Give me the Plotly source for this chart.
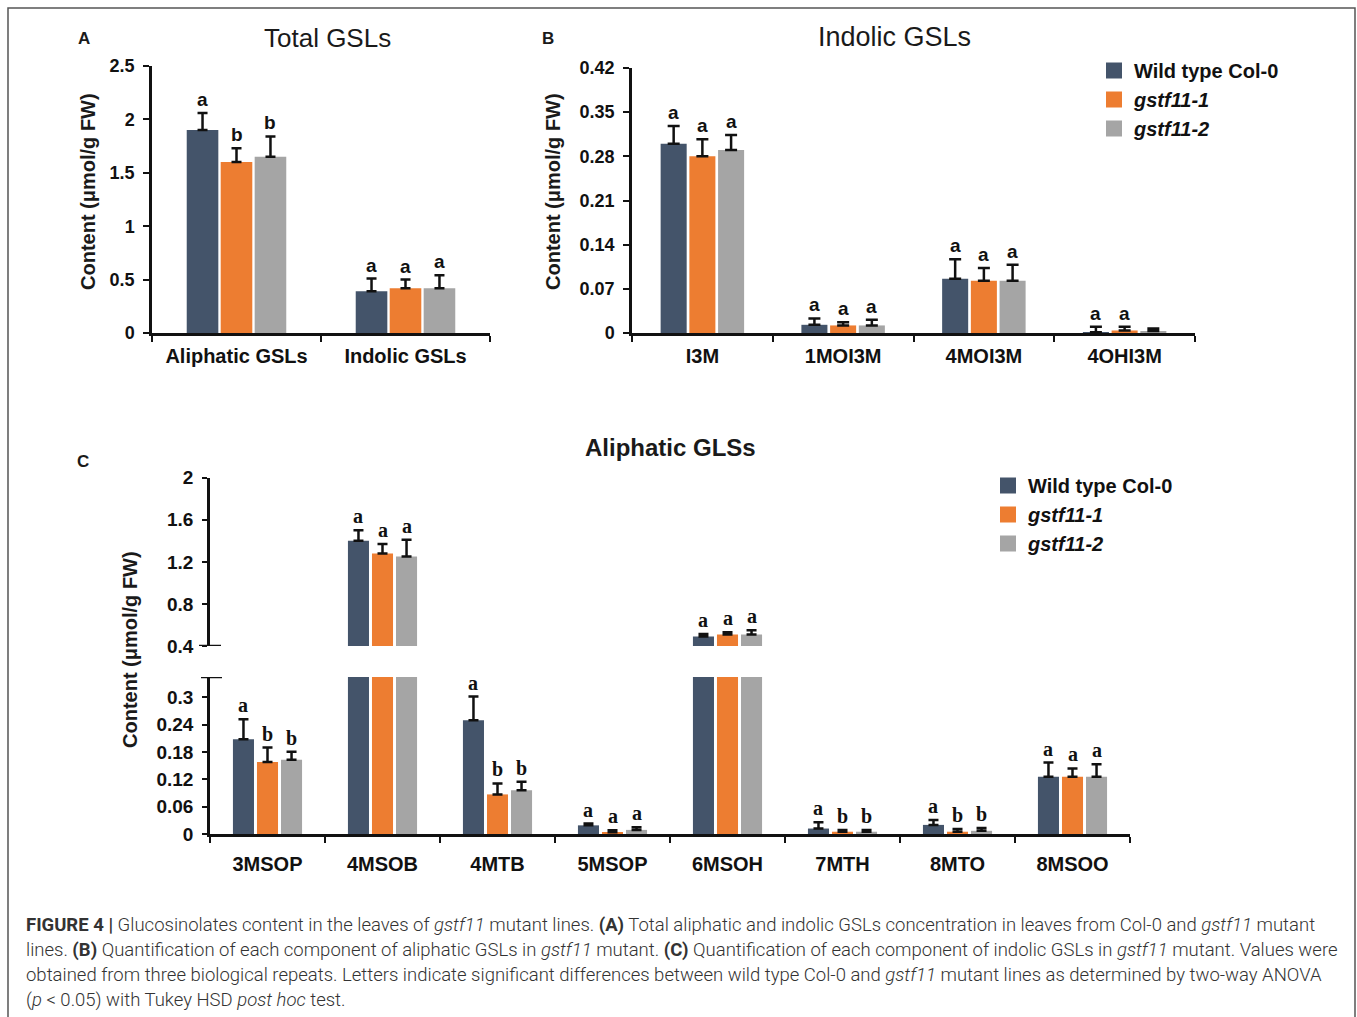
import plotly.graph_objects as go

W, H = 1357, 1017

# ---------------- data ----------------
series = ["Wild type Col-0", "gstf11-1", "gstf11-2"]
legend_names = ["<b>Wild type Col-0</b>", "<b><i>gstf11-1</i></b>", "<b><i>gstf11-2</i></b>"]
colors = ["#44546A", "#ED7D31", "#A5A5A5"]

# Panel A: Total GSLs
a_cats = ["Aliphatic GSLs", "Indolic GSLs"]
a_wt = [1.90, 0.39]
a_wt_err = [0.16, 0.12]
a_g1 = [1.60, 0.42]
a_g1_err = [0.13, 0.08]
a_g2 = [1.65, 0.42]
a_g2_err = [0.19, 0.12]
a_wt_let = ["a", "a"]
a_g1_let = ["b", "a"]
a_g2_let = ["b", "a"]
a_ticks = [0, 0.5, 1, 1.5, 2, 2.5]
a_ticktext = ["0", "0.5", "1", "1.5", "2", "2.5"]

# Panel B: Indolic GSLs
b_cats = ["I3M", "1MOI3M", "4MOI3M", "4OHI3M"]
b_wt = [0.300, 0.013, 0.086, 0.001]
b_wt_err = [0.028, 0.010, 0.031, 0.009]
b_g1 = [0.280, 0.012, 0.083, 0.004]
b_g1_err = [0.027, 0.005, 0.020, 0.006]
b_g2 = [0.290, 0.012, 0.083, 0.003]
b_g2_err = [0.024, 0.009, 0.025, 0.004]
b_wt_let = ["a", "a", "a", "a"]
b_g1_let = ["a", "a", "a", "a"]
b_g2_let = ["a", "a", "a", ""]
b_ticks = [0, 0.07, 0.14, 0.21, 0.28, 0.35, 0.42]
b_ticktext = ["0", "0.07", "0.14", "0.21", "0.28", "0.35", "0.42"]

# Panel C: Aliphatic GSLs (broken axis)
c_cats = ["3MSOP", "4MSOB", "4MTB", "5MSOP", "6MSOH", "7MTH", "8MTO", "8MSOO"]
c_wt = [0.208, 1.40, 0.250, 0.019, 0.49, 0.012, 0.020, 0.126]
c_wt_err = [0.044, 0.10, 0.052, 0.004, 0.025, 0.014, 0.011, 0.031]
c_g1 = [0.158, 1.28, 0.087, 0.004, 0.51, 0.005, 0.005, 0.126]
c_g1_err = [0.032, 0.09, 0.024, 0.004, 0.020, 0.004, 0.006, 0.018]
c_g2 = [0.163, 1.25, 0.096, 0.009, 0.51, 0.005, 0.007, 0.126]
c_g2_err = [0.018, 0.16, 0.019, 0.006, 0.040, 0.004, 0.006, 0.027]
c_wt_let = ["a", "a", "a", "a", "a", "a", "a", "a"]
c_g1_let = ["b", "a", "b", "a", "a", "b", "b", "a"]
c_g2_let = ["b", "a", "b", "a", "a", "b", "b", "a"]
c_low_ticks = [0, 0.06, 0.12, 0.18, 0.24, 0.3]
c_low_ticktext = ["0", "0.06", "0.12", "0.18", "0.24", "0.3"]
c_up_ticks = [0.4, 0.8, 1.2, 1.6, 2.0]
c_up_ticktext = ["0.4", "0.8", "1.2", "1.6", "2"]
c_low_max = 0.345
c_up_range = [0.4, 2.0]

caption_lines = [
    "<b>FIGURE 4 |</b> Glucosinolates content in the leaves of <i>gstf11</i> mutant lines. <b>(A)</b> Total aliphatic and indolic GSLs concentration in leaves from Col-0 and <i>gstf11</i> mutant",
    "lines. <b>(B)</b> Quantification of each component of aliphatic GSLs in <i>gstf11</i> mutant. <b>(C)</b> Quantification of each component of indolic GSLs in <i>gstf11</i> mutant. Values were",
    "obtained from three biological repeats. Letters indicate significant differences between wild type Col-0 and <i>gstf11</i> mutant lines as determined by two-way ANOVA",
    "(<i>p</i> &lt; 0.05) with Tukey HSD <i>post hoc</i> test.",
]

# ---------------- helpers ----------------
def px_x(p):
    return p / W

def px_y(p):
    return 1 - p / H

SANS = "Liberation Sans, Arial, sans-serif"
NARROW = "Liberation Sans Narrow, Arial Narrow, Liberation Sans, sans-serif"
SERIF = "Liberation Serif, Times New Roman, serif"

fig = go.Figure()
annotations = []
shapes = []


def add_panel(cats, vals, errs, lets, xa, ya, bw, step, capw, thick, letfont, letsize, ya_up=None, split=None):
    for k in range(3):
        shift = (k - 1) * step
        axes = [(xa, ya)] if ya_up is None else [(xa, ya), (ya_up[0], ya_up[1])]
        for (xx, yy) in axes:
            fig.add_trace(go.Bar(
                x=cats, y=vals[k], width=bw, offset=shift - bw / 2,
                marker=dict(color=colors[k], line=dict(width=0)),
                error_y=dict(type="data", array=errs[k], arrayminus=[0] * len(cats),
                             symmetric=False, color="#111111", thickness=thick, width=capw),
                xaxis=xx, yaxis=yy, showlegend=False, name=series[k],
            ))
        for i, (v, e, l) in enumerate(zip(vals[k], errs[k], lets[k])):
            if not l:
                continue
            yref = ya
            xref = xa
            if ya_up is not None and v + e > split:
                xref, yref = ya_up
            annotations.append(dict(
                x=i + shift, y=v + e, xref=xref, yref=yref, text="<b>%s</b>" % l,
                showarrow=False, yanchor="bottom", yshift=1,
                font=dict(family=letfont, size=letsize, color="#111111")))


add_panel(a_cats, [a_wt, a_g1, a_g2], [a_wt_err, a_g1_err, a_g2_err],
          [a_wt_let, a_g1_let, a_g2_let], "x", "y", 0.187, 0.201, 5, 2.5, SANS, 19)
add_panel(b_cats, [b_wt, b_g1, b_g2], [b_wt_err, b_g1_err, b_g2_err],
          [b_wt_let, b_g1_let, b_g2_let], "x2", "y2", 0.185, 0.204, 6, 2.5, NARROW, 19)
add_panel(c_cats, [c_wt, c_g1, c_g2], [c_wt_err, c_g1_err, c_g2_err],
          [c_wt_let, c_g1_let, c_g2_let], "x3", "y3", 0.183, 0.209, 5, 2.5, SERIF, 20,
          ya_up=("x4", "y4"), split=c_low_max)

# legend proxies
for k in range(3):
    fig.add_trace(go.Scatter(x=[None], y=[None], mode="markers", name=legend_names[k],
                             marker=dict(symbol="square", size=16, color=colors[k]),
                             xaxis="x2", yaxis="y2", legend="legend", showlegend=True))
for k in range(3):
    fig.add_trace(go.Scatter(x=[None], y=[None], mode="markers", name=legend_names[k],
                             marker=dict(symbol="square", size=16, color=colors[k]),
                             xaxis="x3", yaxis="y3", legend="legend2", showlegend=True))

axis_common = dict(showline=True, linecolor="#111111", linewidth=2.5, showgrid=False,
                   zeroline=False, ticks="outside", tickcolor="#111111", tickwidth=2,
                   automargin=False)

fig.update_layout(
    width=W, height=H, margin=dict(l=0, r=0, t=0, b=0, autoexpand=False),
    paper_bgcolor="white", plot_bgcolor="white",
    barmode="group",
    xaxis=dict(domain=[px_x(152), px_x(490)], anchor="y", type="category",
               range=[-0.5, 1.5], tickson="boundaries", ticklen=6, ticklabelstandoff=3,
               tickfont=dict(family=SANS, size=20, color="#111111", weight="bold"), **axis_common),
    yaxis=dict(domain=[px_y(333), px_y(66)], anchor="x", range=[0, 2.5],
               tickvals=a_ticks, ticktext=a_ticktext, ticklen=6, ticklabelstandoff=5,
               tickfont=dict(family=SANS, size=18, color="#111111", weight="bold"), **axis_common),
    xaxis2=dict(domain=[px_x(632), px_x(1195)], anchor="y2", type="category",
                range=[-0.5, 3.5], tickson="boundaries", ticklen=6, ticklabelstandoff=3,
                tickfont=dict(family=NARROW, size=20, color="#111111", weight="bold"), **axis_common),
    yaxis2=dict(domain=[px_y(333), px_y(68)], anchor="x2", range=[0, 0.42],
                tickvals=b_ticks, ticktext=b_ticktext, ticklen=6, ticklabelstandoff=5,
                tickfont=dict(family=NARROW, size=18, color="#111111", weight="bold"), **axis_common),
    xaxis3=dict(domain=[px_x(210), px_x(1130)], anchor="y3", type="category",
                range=[-0.5, 7.5], tickson="boundaries", ticklen=6, ticklabelstandoff=10,
                tickfont=dict(family=NARROW, size=20, color="#111111", weight="bold"), **axis_common),
    yaxis3=dict(domain=[px_y(834), px_y(677)], anchor="x3", range=[0, c_low_max],
                tickvals=c_low_ticks, ticktext=c_low_ticktext, ticklen=5, ticklabelstandoff=5,
                tickfont=dict(family=NARROW, size=19, color="#111111", weight="bold"), **axis_common),
    xaxis4=dict(domain=[px_x(210), px_x(1130)], anchor="y4", type="category", matches="x3",
                visible=False),
    yaxis4=dict(domain=[px_y(646), px_y(477.7)], anchor="x4", range=c_up_range,
                tickvals=c_up_ticks, ticktext=c_up_ticktext, ticklen=5, ticklabelstandoff=5,
                tickfont=dict(family=NARROW, size=19, color="#111111", weight="bold"), **axis_common),
    legend=dict(x=px_x(1094), y=px_y(51), xanchor="left", yanchor="top",
                font=dict(family=SANS, size=20, color="#111111"), bgcolor="rgba(0,0,0,0)",
                tracegroupgap=0),
    legend2=dict(x=px_x(988), y=px_y(466), xanchor="left", yanchor="top",
                 font=dict(family=NARROW, size=20, color="#111111"), bgcolor="rgba(0,0,0,0)",
                 tracegroupgap=0),
)

# titles, panel letters, axis titles
text_items = [
    ("Total GSLs", 327, 38, 0, SANS, 26, False),
    ("Indolic GSLs", 894, 37, 0, NARROW, 27, False),
    ("Aliphatic GLSs", 670, 447, 0, NARROW, 24, True),
    ("A", 84, 38, 0, SANS, 17, True),
    ("B", 548, 38, 0, SANS, 17, True),
    ("C", 83, 461, 0, SANS, 17, True),
    ("Content (μmol/g FW)", 88, 192, -90, SANS, 20, True),
    ("Content (μmol/g FW)", 553, 192, -90, SANS, 20, True),
    ("Content (μmol/g FW)", 130, 650, -90, SANS, 20, True),
]
for (t, x, y, ang, fam, sz, bold) in text_items:
    annotations.append(dict(text=("<b>%s</b>" % t) if bold else t, x=px_x(x), y=px_y(y),
                            xref="paper", yref="paper", showarrow=False, textangle=ang,
                            xanchor="center", yanchor="middle",
                            font=dict(family=fam, size=sz, color="#1a1a1a")))

for i, line in enumerate(caption_lines):
    annotations.append(dict(text=line, x=px_x(24), y=px_y(925 + 25 * i), xref="paper", yref="paper",
                            showarrow=False, xanchor="left", yanchor="middle", align="left",
                            font=dict(family="Roboto, Liberation Sans, sans-serif", size=18.5,
                                      color="#333333", weight=300)))

# broken-axis marks
shapes.append(dict(type="line", xref="paper", yref="y4", x0=px_x(199), x1=px_x(221),
                   y0=c_up_range[0], y1=c_up_range[0], line=dict(color="#111111", width=2.5)))
shapes.append(dict(type="line", xref="paper", yref="y3", x0=px_x(201), x1=px_x(222),
                   y0=c_low_max, y1=c_low_max, line=dict(color="#111111", width=2.5)))
# figure frame
shapes.append(dict(type="path", xref="paper", yref="paper",
                   path="M %f,%f L %f,%f L %f,%f L %f,%f" % (px_x(8), px_y(1017), px_x(8), px_y(8),
                                                            px_x(1355), px_y(8), px_x(1355), px_y(1017)),
                   line=dict(color="#555555", width=1.5)))

fig.update_layout(annotations=annotations, shapes=shapes)

fig.write_html("out.html", config={"displayModeBar": False},
               post_script="document.body.style.margin='0px';")
